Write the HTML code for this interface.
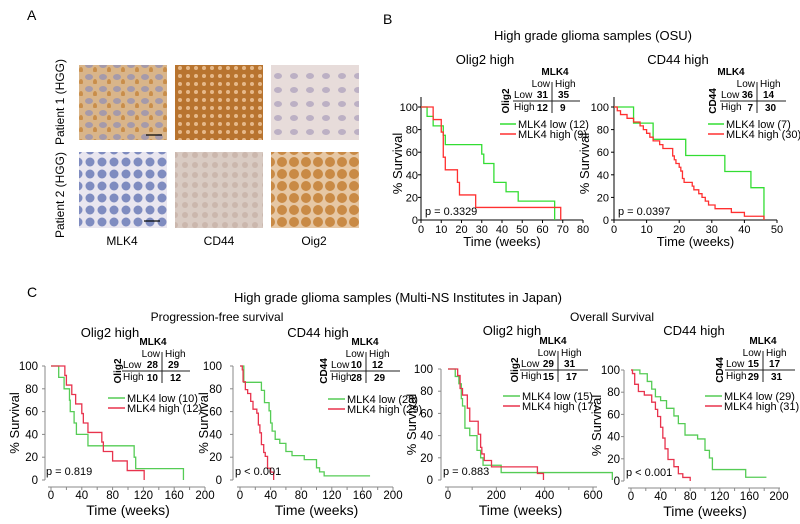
<!DOCTYPE html>
<html><head><meta charset="utf-8">
<style>
body{margin:0;background:#fff;}
svg{display:block;font-family:"Liberation Sans",Arial,sans-serif;}
</style></head>
<body>
<svg id="fig" width="800" height="524" viewBox="0 0 800 524">
<defs>
<pattern id="p1" width="14" height="12" patternUnits="userSpaceOnUse"><rect width="14" height="12" fill="#d9b58a"/><ellipse cx="5" cy="5" rx="4" ry="3" fill="#8f8fb8" opacity="0.7"/><ellipse cx="11" cy="10" rx="2" ry="3" fill="#c98e4a"/></pattern>
<pattern id="p2" width="8" height="8" patternUnits="userSpaceOnUse"><rect width="8" height="8" fill="#b8742f"/><circle cx="4" cy="4" r="2" fill="#e6b98a"/></pattern>
<pattern id="p3" width="16" height="14" patternUnits="userSpaceOnUse"><rect width="16" height="14" fill="#e7dcda"/><ellipse cx="6" cy="6" rx="4" ry="3" fill="#bcb0c4"/></pattern>
<pattern id="p4" width="12" height="12" patternUnits="userSpaceOnUse"><rect width="12" height="12" fill="#e9e6ef"/><circle cx="6" cy="6" r="4.5" fill="#7f8cc0"/></pattern>
<pattern id="p5" width="10" height="10" patternUnits="userSpaceOnUse"><rect width="10" height="10" fill="#d9cbc3"/><circle cx="5" cy="5" r="3" fill="#cbb7ad"/></pattern>
<pattern id="p6" width="12" height="12" patternUnits="userSpaceOnUse"><rect width="12" height="12" fill="#e6c7a4"/><circle cx="6" cy="6" r="5" fill="#c98a45"/></pattern>
</defs>

<g>
<text x="27" y="20" font-size="14">A</text>
<rect x="79" y="65" width="88" height="75" fill="url(#p1)"/>
<rect x="175" y="65" width="88" height="75" fill="url(#p2)"/>
<rect x="271" y="65" width="88" height="75" fill="url(#p3)"/>
<rect x="79" y="152" width="88" height="76" fill="url(#p4)"/>
<rect x="175" y="152" width="88" height="76" fill="url(#p5)"/>
<rect x="271" y="152" width="88" height="76" fill="url(#p6)"/>
<line x1="146" y1="135" x2="162" y2="135" stroke="#000" stroke-width="1.2"/>
<line x1="144" y1="221" x2="160" y2="221" stroke="#000" stroke-width="1.2"/>
<text transform="translate(64,102) rotate(-90)" text-anchor="middle" font-size="12">Patient 1 (HGG)</text>
<text transform="translate(64,195) rotate(-90)" text-anchor="middle" font-size="12">Patient 2 (HGG)</text>
<text x="122" y="245" text-anchor="middle" font-size="12">MLK4</text>
<text x="219" y="245" text-anchor="middle" font-size="12">CD44</text>
<text x="314" y="245" text-anchor="middle" font-size="12">Oig2</text>
</g>

<text x="383" y="24" font-size="14">B</text>
<text x="593" y="40" text-anchor="middle" font-size="13">High grade glioma samples (OSU)</text>
<text x="27" y="297" font-size="14">C</text>
<text x="398" y="302" text-anchor="middle" font-size="13">High grade glioma samples (Multi-NS Institutes in Japan)</text>
<text x="217" y="321" text-anchor="middle" font-size="12">Progression-free survival</text>
<text x="612" y="321" text-anchor="middle" font-size="12">Overall Survival</text>
<g id="charts"></g>
</svg>
<script>
// Data: [time, survival%] step points
const b1Low=[[0,100],[3,91.7],[6,83.3],[11,75],[12,66.7],[30,58.3],[31,50],[36,33.3],[42,25],[48,16.7],[66,0]];
const b1High=[[0,100],[6,88.9],[10,77.8],[11,55.6],[12,44.4],[18,33.3],[19,22.2],[27,11.1],[69,0]];
const b2Low=[[0,100],[6,85.7],[12,71.4],[22,57.1],[34,42.9],[42,28.6],[46,0]];
const b2High=[[0,100],[1,96.7],[2,93.3],[4,90],[6,86.7],[8,83.3],[9,80],[10,76.7],[11,73.3],[12,70],[14,66.7],[15,63.3],[18,56.7],[18.5,53.3],[19,50],[20,46.7],[20.5,43.3],[21,36.7],[21.5,33.3],[24,30],[24.5,26.7],[26,23.3],[27,20],[28,16.7],[29,13.3],[31,10],[36,6.7],[40,3.3],[46,0]];
const c1Low=[[0,100],[10,90],[17,80],[24,70],[25,60],[30,50],[33,40],[48,30],[108,20],[110,10],[172,0]];
const c1High=[[0,100],[18,91.7],[20,83.3],[27,75],[32,66.7],[40,58.3],[42,50],[48,41.7],[66,33.3],[68,25],[80,16.7],[99,8.3],[121,0]];
const c2Low=[[0,100],[5,85.7],[28,78.6],[32,67.9],[38,60.7],[40,50],[42,42.9],[46,35.7],[52,32.1],[60,25],[68,21.4],[84,17.9],[100,10.7],[104,7.1],[110,3.6],[170,3.6]];
const c2High=[[0,100],[3,96.6],[4,86.2],[7,79.3],[10,75.9],[14,69],[17,62.1],[22,58.6],[24,48.3],[26,41.4],[28,31],[31,24.1],[33,20.7],[36,10.3],[40,6.9],[44,0]];
const c3Low=[[0,100],[30,93.3],[45,86.7],[55,73.3],[60,66.7],[70,46.7],[90,40],[120,26.7],[135,20],[145,13.3],[220,6.7],[680,0]];
const c3High=[[0,100],[40,94.1],[50,82.4],[60,76.5],[80,64.7],[90,52.9],[125,41.2],[135,29.4],[140,23.5],[150,17.6],[180,11.8],[370,5.9],[395,0]];
const c4Low=[[0,100],[12,96.6],[22,89.7],[28,82.8],[33,75.9],[40,72.4],[48,65.5],[58,58.6],[64,51.7],[73,41.4],[90,37.9],[100,27.6],[106,20.7],[110,10.3],[155,3.4],[183,3.4]];
const c4High=[[0,100],[2,96.8],[5,87.1],[10,80.6],[18,77.4],[28,71],[33,64.5],[36,58.1],[40,48.4],[43,38.7],[46,29],[50,19.4],[58,12.9],[64,6.5],[70,3.2],[80,0]];
const yTicks=[0,20,40,60,80,100];
const b1XTicks=[0,10,20,30,40,50,60,70,80];
const b2XTicks=[0,10,20,30,40,50];
const cXTicks=[0,40,80,120,160,200];
const c3XTicks=[0,200,400,600];
const pValues=["p = 0.3329","p = 0.0397","p = 0.819","p < 0.001","p = 0.883","p < 0.001"];
const lowCounts=["(12)","(7)","(10)","(28)","(15)","(29)"];
const highCounts=["(9)","(30)","(12)","(29)","(17)","(31)"];
const tables=[["31","35","12","9"],["36","14","7","30"],["28","29","10","12"],["10","12","28","29"],["29","31","15","17"],["15","17","29","31"]];

const NS="http://www.w3.org/2000/svg";
const root=document.getElementById('charts');
function mk(tag,attrs,parent,txt){const e=document.createElementNS(NS,tag);for(const k in attrs)e.setAttribute(k,attrs[k]);if(txt!==undefined)e.textContent=txt;parent.appendChild(e);return e;}

const charts=[
 {id:'b1',title:'Olig2 high',tx:485,ty:64,x0:421,xr:[0,80],x1:583,y0:220,y1:107,low:b1Low,high:b1High,xt:b1XTicks,minor:[],style:'B',green:'#33dd33',red:'#ff3030',tab:{mx:555,vx:552,l:513,r:580,ly:101,lab:'Olig2',lx:505},leg:{x1:500,x2:516,y:124},p:0,ylab:402,ylabx:418,fs:11},
 {id:'b2',title:'CD44 high',tx:678,ty:64,x0:614,xr:[0,50],x1:777,y0:220,y1:107,low:b2Low,high:b2High,xt:b2XTicks,minor:[],style:'B',green:'#33dd33',red:'#ff3030',tab:{mx:731,vx:757,l:720,r:786,ly:101,lab:'CD44',lx:712},leg:{x1:708,x2:724,y:124},p:1,ylab:589,ylabx:609,fs:11},
 {id:'c1',title:'Olig2 high',tx:110,ty:337,x0:51,xr:[0,200],x1:205,y0:480,y1:366,low:c1Low,high:c1High,xt:cXTicks,minor:[20,60,100,140,180],style:'C',green:'#55cc55',red:'#e8334d',tab:{mx:153,vx:162,l:122,r:190,ly:371,lab:'Olig2',lx:117},leg:{x1:108,x2:125,y:398},p:2,ylab:19,ylabx:38,fs:11.5,axX:45,axY:487,xmax:205},
 {id:'c2',title:'CD44 high',tx:318,ty:337,x0:240,xr:[0,200],x1:393,y0:480,y1:366,low:c2Low,high:c2High,xt:cXTicks,minor:[20,60,100,140,180],style:'C',green:'#55cc55',red:'#e8334d',tab:{mx:365,vx:366,l:330,r:400,ly:371,lab:'CD44',lx:323},leg:{x1:328,x2:345,y:399},p:3,ylab:208,ylabx:222,fs:11.5,axX:233,axY:487,xmax:393},
 {id:'c3',title:'Olig2 high',tx:512,ty:335,x0:448,xr:[0,600],x1:593,y0:480,y1:369,low:c3Low,high:c3High,xt:c3XTicks,minor:[100,300,500],style:'C',green:'#55cc55',red:'#e8334d',tab:{mx:553,vx:558,l:520,r:588,ly:370,lab:'Olig2',lx:514},leg:{x1:503,x2:520,y:396},p:4,ylab:416,ylabx:433,fs:11.5,axX:441,axY:487,xmax:597},
 {id:'c4',title:'CD44 high',tx:694,ty:335,x0:631,xr:[0,200],x1:779,y0:481,y1:370,low:c4Low,high:c4High,xt:cXTicks,minor:[20,60,100,140,180],style:'C',green:'#55cc55',red:'#e8334d',tab:{mx:763,vx:763,l:725,r:795,ly:370,lab:'CD44',lx:719},leg:{x1:705,x2:722,y:396},p:5,ylab:601,ylabx:620,fs:11.5,axX:624,axY:488,xmax:780}
];

charts.forEach((c,i)=>{
 const g=mk('g',{},root);
 
 
 const sx=v=>c.x0+(v-c.xr[0])/(c.xr[1]-c.xr[0])*(c.x1-c.x0);
 const sy=v=>c.y0+v/100*(c.y1-c.y0);
 const t=mk('text',{x:c.tx,y:c.ty,'text-anchor':'middle','font-size':13},g,c.title);
 
 
 const ax=c.style==='B'?'#000':'#888';
 const yaX=c.style==='B'?c.x0:c.axX;
 const ya=mk('line',{x1:yaX,y1:sy(0),x2:yaX,y2:sy(100)-(c.style==='B'?10:0),stroke:ax,'stroke-width':1},g);
 
 
 yTicks.forEach(v=>{
  mk('line',{x1:yaX-3,y1:sy(v),x2:yaX,y2:sy(v),stroke:ax},g);
  const tl=mk('text',{x:c.ylabx,y:sy(v)+4,'text-anchor':'end','font-size':c.fs},g,String(v));
  
  
 });
 const xaY=c.style==='B'?c.y0:c.axY;
 const xEnd=c.style==='B'?c.x1:c.xmax;
 const xa=mk('line',{x1:c.style==='B'?c.x0:sx(0)-3,y1:xaY,x2:xEnd,y2:xaY,stroke:ax},g);
 
 
 c.xt.forEach(v=>{
  mk('line',{x1:sx(v),y1:xaY,x2:sx(v),y2:xaY+3,stroke:ax},g);
  const tl=mk('text',{x:sx(v),y:xaY+(c.style==='B'?13:12),'text-anchor':'middle','font-size':c.fs},g,String(v));
  
  
 });
 c.minor.forEach(v=>{ if(sx(v)<=xEnd) mk('line',{x1:sx(v),y1:xaY,x2:sx(v),y2:xaY+3,stroke:ax},g);});
 const xt=mk('text',{x:(sx(c.xt[0])+sx(c.xt[c.xt.length-1]))/2,y:xaY+(c.style==='B'?26:28),'text-anchor':'middle','font-size':c.style==='B'?13:14},g,'Time (weeks)');
 
 
 const yt=mk('text',{transform:`translate(${c.ylab},${(sy(0)+sy(100))/2}) rotate(-90)`,'text-anchor':'middle','font-size':13},g,'% Survival');
 
 
 [[c.low,c.green,'low'],[c.high,c.red,'high']].forEach(([d,col,nm])=>{
  let p=`M${sx(d[0][0])},${sy(d[0][1])}`;
  for(let k=1;k<d.length;k++){p+=` H${sx(d[k][0])} V${sy(d[k][1])}`;}
  const path=mk('path',{d:p,fill:'none',stroke:col,'stroke-width':1.3},g);
  
  
 });
 const pv=mk('text',{x:c.style==='B'?c.x0+4:sx(0)-5,y:c.y0-5,'font-size':11},g,pValues[c.p]);
 
 
 const L=c.leg;
 mk('line',{x1:L.x1,y1:L.y,x2:L.x2,y2:L.y,stroke:c.green,'stroke-width':1.5},g);
 mk('line',{x1:L.x1,y1:L.y+10,x2:L.x2,y2:L.y+10,stroke:c.red,'stroke-width':1.5},g);
 const l1=mk('text',{x:L.x2+2,y:L.y+4,'font-size':11},g,'MLK4 low  '+lowCounts[c.p]);
 
 
 const l2=mk('text',{x:L.x2+2,y:L.y+14,'font-size':11},g,'MLK4 high '+highCounts[c.p]);
 
 
 const T=c.tab, tv=tables[c.p];
 const tg=mk('g',{'font-size':10},g);
 
 
 mk('text',{x:T.mx,y:T.ly-26,'text-anchor':'middle','font-weight':'bold'},tg,'MLK4');
 mk('text',{x:T.vx-2,y:T.ly-14,'text-anchor':'end'},tg,'Low');
 mk('text',{x:T.vx+3,y:T.ly-14},tg,'High');
 mk('text',{x:T.l+1,y:T.ly-3},tg,'Low');
 mk('text',{x:T.l+1,y:T.ly+9},tg,'High');
 mk('text',{x:T.vx-4,y:T.ly-3,'text-anchor':'end','font-weight':'bold'},tg,tv[0]);
 mk('text',{x:T.vx+6,y:T.ly-3,'font-weight':'bold'},tg,tv[1]);
 mk('text',{x:T.vx-4,y:T.ly+10,'text-anchor':'end','font-weight':'bold'},tg,tv[2]);
 mk('text',{x:T.vx+8,y:T.ly+10,'font-weight':'bold'},tg,tv[3]);
 mk('line',{x1:T.l,y1:T.ly,x2:T.r,y2:T.ly,stroke:'#222'},tg);
 mk('line',{x1:T.vx,y1:T.ly-19,x2:T.vx,y2:T.ly+12,stroke:'#222'},tg);
 mk('text',{transform:`translate(${T.lx+4},${T.ly}) rotate(-90)`,'text-anchor':'middle','font-weight':'bold'},tg,T.lab);
});
</script>
</body></html>
